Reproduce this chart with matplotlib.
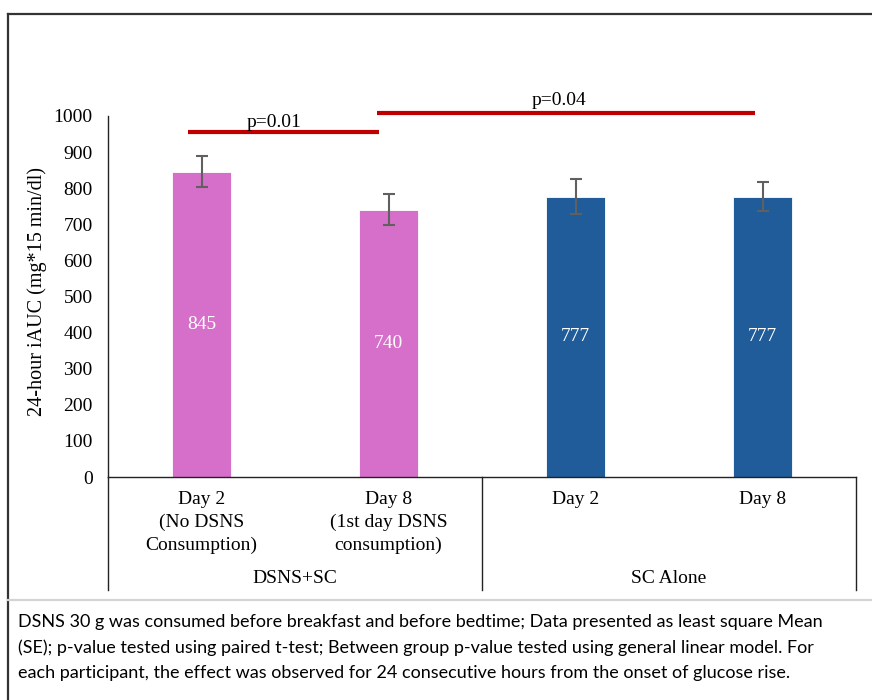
import matplotlib
matplotlib.use('Agg')
import matplotlib.pyplot as plt
from matplotlib.lines import Line2D

# values
day_labels = ["Day 2\n(No DSNS\nConsumption)", "Day 8\n(1st day DSNS\nconsumption)", "Day 2", "Day 8"]
groups = ["DSNS+SC", "SC Alone"]
iauc = [845, 740, 777, 777]
se = [43, 43, 48, 40]
bar_colors = ["#D66FC9", "#D66FC9", "#1F5C99", "#1F5C99"]

# significance brackets
p_labels = ["p=0.01", "p=0.04"]
p_start = [-0.07, 0.94]
p_end = [0.95, 2.96]
p_level = [956, 1008]
p_text_x = [0.39, 1.91]
p_text_y = [983, 1044]

caption = ("DSNS 30 g was consumed before breakfast and before bedtime; Data presented as least square Mean\n"
           "(SE); p-value tested using paired t-test; Between group p-value tested using general linear model. For\n"
           "each participant, the effect was observed for 24 consecutive hours from the onset of glucose rise.")

serif = "Liberation Serif"
fs = 14

fig = plt.figure(figsize=(8.72, 7.0), dpi=100)
W, H = 872, 700
ax = fig.add_axes([108 / W, 1 - 477 / H, 748 / W, 361 / H])

x = range(len(iauc))
ax.bar(x, iauc, width=0.315, color=bar_colors, edgecolor="white", linewidth=0.6)
ax.errorbar(x, iauc, yerr=se, fmt="none", ecolor="#606060", elinewidth=1.5, capsize=4.2, capthick=1.5)

for i, v in enumerate(iauc):
    ax.text(i, v / 2, str(v), ha="center", va="center", color="white", fontsize=fs, family=serif)

ax.set_xlim(-0.5, 3.5)
ax.set_ylim(0, 1000)
ax.set_yticks(range(0, 1001, 100))
ax.set_xticks([])
ax.tick_params(axis="y", length=0, pad=11, labelsize=fs)
for lab in ax.get_yticklabels():
    lab.set_family(serif)
for s in ["top", "right"]:
    ax.spines[s].set_visible(False)
for s in ["left", "bottom"]:
    ax.spines[s].set_color("#222222")
    ax.spines[s].set_linewidth(1.0)

# multi-level category axis
tr = ax.get_xaxis_transform()
for xv in [-0.5, 1.5, 3.5]:
    ax.plot([xv, xv], [0, -0.313], transform=tr, color="#222222", lw=1.0, clip_on=False)
for i, lab in enumerate(day_labels):
    ax.text(i, -0.039, lab, transform=tr, ha="center", va="top", fontsize=fs,
            family=serif, linespacing=1.42)
for g, lab in enumerate(groups):
    ax.text(2 * g + 0.5, -0.28, lab, transform=tr, ha="center", va="center", fontsize=fs, family=serif)

# p-value brackets
for lab, a, b, lvl, tx, ty in zip(p_labels, p_start, p_end, p_level, p_text_x, p_text_y):
    ax.plot([a, b], [lvl, lvl], color="#C00000", lw=3, clip_on=False, solid_capstyle="butt")
    ax.text(tx, ty, lab, ha="center", va="center", fontsize=fs, family=serif)

fig.text(37 / W, 1 - 292 / H, "24-hour iAUC (mg*15 min/dl)", rotation=90, ha="center", va="center",
         fontsize=14.5, family=serif)

# outer frame and caption separator
fig.add_artist(Line2D([8 / W, 1], [1 - 14 / H, 1 - 14 / H], color="#333333", lw=1.6))
fig.add_artist(Line2D([8 / W, 8 / W], [0, 1 - 14 / H], color="#333333", lw=1.6))
fig.add_artist(Line2D([8 / W, 1], [1 - 600 / H, 1 - 600 / H], color="#d4d4d4", lw=1.6))

fig.text(18 / W, 1 - 614 / H, caption, ha="left", va="top", fontsize=13, family="Lato", linespacing=1.68)

fig.savefig("out.png", dpi=100)
